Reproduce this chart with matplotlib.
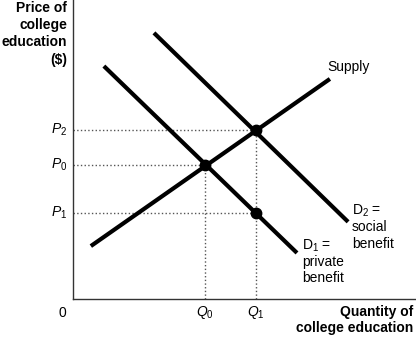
import matplotlib
matplotlib.use("Agg")
import matplotlib.pyplot as plt

plt.rcParams['font.family'] = ['Liberation Sans', 'DejaVu Sans']
plt.rcParams['mathtext.fontset'] = 'custom'
plt.rcParams['mathtext.rm'] = 'Liberation Sans'
plt.rcParams['mathtext.it'] = 'Liberation Sans:italic'
plt.rcParams['mathtext.bf'] = 'Liberation Sans:bold'

# Curve end points (quantity, price)
supply_q = [0.52, 7.49]
supply_p = [1.77, 7.36]
d1_q = [0.90, 6.53]
d1_p = [7.79, 1.54]
d2_q = [2.36, 8.02]
d2_p = [8.90, 2.58]

# Equilibrium quantities and prices
q0, q1 = 3.85, 5.34
p0, p1, p2 = 4.48, 2.88, 5.65

# Points marked on the chart
dot_q = [q0, q1, q1]
dot_p = [p0, p2, p1]

fig = plt.figure(figsize=(4.16, 3.39), dpi=100)
ax = fig.add_axes([73 / 416, 40 / 339, 343 / 416, 299 / 339])
ax.set_xlim(0, 10)
ax.set_ylim(0, 10)

# Dotted guide lines
guide = dict(color='#555555', linestyle=':', linewidth=1)
ax.plot([0, q1], [p2, p2], **guide)
ax.plot([0, q0], [p0, p0], **guide)
ax.plot([0, q1], [p1, p1], **guide)
ax.plot([q0, q0], [0, p0], **guide)
ax.plot([q1, q1], [0, p2], **guide)

# Supply and demand curves
ax.plot(supply_q, supply_p, color='black', linewidth=3, solid_capstyle='butt')
ax.plot(d1_q, d1_p, color='black', linewidth=3, solid_capstyle='butt')
ax.plot(d2_q, d2_p, color='black', linewidth=3, solid_capstyle='butt')
ax.plot(dot_q, dot_p, 'o', color='black', markersize=7.5)

# Axes look
for side in ['top', 'right']:
    ax.spines[side].set_visible(False)
for side in ['left', 'bottom']:
    ax.spines[side].set_color('#333333')
    ax.spines[side].set_linewidth(1)
ax.set_xticks([])
ax.set_yticks([])

fs = 10
# Curve labels
ax.text(7.41, 7.76, 'Supply', fontsize=fs, ha='left', va='center')
for txt, y in zip(['D$_{2}$ =', 'social', 'benefit'], [2.94, 2.41, 1.84]):
    ax.text(8.13, y, txt, fontsize=fs, ha='left', va='center')
for txt, y in zip(['D$_{1}$ =', 'private', 'benefit'], [1.77, 1.24, 0.70]):
    ax.text(6.68, y, txt, fontsize=fs, ha='left', va='center')

# Price labels
for txt, y in zip(['$P_2$', '$P_0$', '$P_1$'], [p2, p0, p1]):
    ax.text(-0.17, y, txt, fontsize=fs, ha='right', va='center', clip_on=False)

# Quantity labels
ax.text(-0.32, -0.47, '0', fontsize=fs, ha='center', va='center', clip_on=False)
ax.text(q0, -0.45, '$Q_0$', fontsize=fs, ha='center', va='center', clip_on=False)
ax.text(q1, -0.45, '$Q_1$', fontsize=fs, ha='center', va='center', clip_on=False)

# Axis titles
for txt, y in zip(['Price of', 'college', 'education', '($)'], [9.73, 9.16, 8.58, 7.99]):
    ax.text(-0.17, y, txt, fontsize=fs, fontweight='bold', ha='right', va='center', clip_on=False)
for txt, y in zip(['Quantity of', 'college education'], [-0.43, -0.98]):
    ax.text(9.91, y, txt, fontsize=fs, fontweight='bold', ha='right', va='center', clip_on=False)

fig.savefig('out.png', dpi=100)
